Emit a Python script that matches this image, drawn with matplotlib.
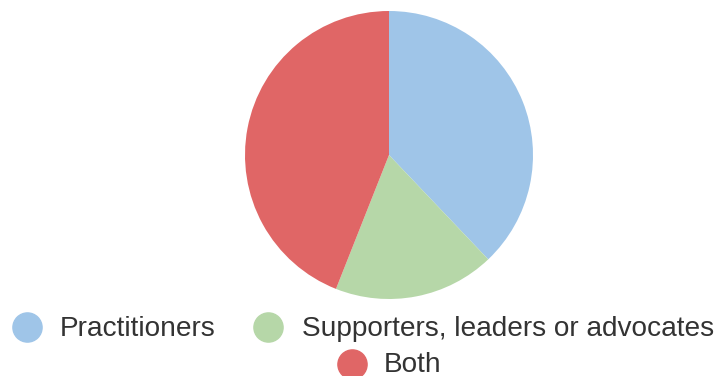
import matplotlib
matplotlib.use("Agg")
import matplotlib.pyplot as plt

labels = ["Practitioners", "Supporters, leaders or advocates", "Both"]
values = [37.9, 18.1, 44.0]
colors = ["#9fc5e8", "#b6d7a8", "#e06666"]

W, H = 728, 376
fig = plt.figure(figsize=(W / 100, H / 100), dpi=100)
plt.rcParams['font.family'] = ['Liberation Sans', 'DejaVu Sans']

# pie axes
cx, cy, r = 389, 155, 144
ax = fig.add_axes([(cx - r) / W, (H - cy - r) / H, 2 * r / W, 2 * r / H])
ax.pie(values, colors=colors, startangle=90, counterclock=False,
       wedgeprops=dict(linewidth=0))
ax.set_xlim(-1, 1)
ax.set_ylim(-1, 1)
ax.set_aspect("equal")

# legend overlay in pixel coordinates
lax = fig.add_axes([0, 0, 1, 1])
lax.set_xlim(0, W)
lax.set_ylim(H, 0)
lax.axis("off")

leg = [  # circle x, circle y, text x, baseline y
    (27, 327, 60, 336),
    (268, 327, 302, 336),
    (352, 364, 384, 372),
]
for (mx, my, tx, ty), lab, col in zip(leg, labels, colors):
    lax.plot([mx], [my], marker="o", markersize=21, color=col, linestyle="none")
    lax.text(tx, ty, lab, fontsize=20.2, color="#333333", va="baseline", ha="left")

fig.savefig("out.png", dpi=100)
